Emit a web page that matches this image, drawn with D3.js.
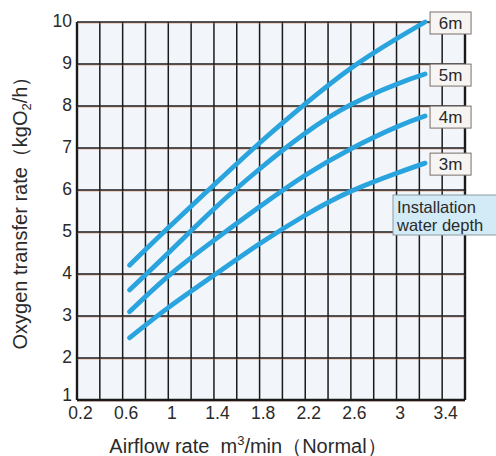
<!DOCTYPE html>
<html>
<head>
<meta charset="utf-8">
<script src="https://cdn.jsdelivr.net/npm/d3@7"></script>
<style>
  body { margin: 0; background: #fff; }
  text { font-family: "Liberation Sans", Arial, sans-serif; fill: #2a2a2a; }
</style>
</head>
<body>
<div id="chart"></div>
<script>
// Datos
const airflow = [0.66, 1.0, 1.4, 1.8, 2.2, 2.6, 3.0, 3.25]
const depth6m = [4.21, 5.1, 6.12, 7.12, 8.05, 8.9, 9.6, 10.0]
const depth5m = [3.62, 4.5, 5.55, 6.5, 7.35, 8.03, 8.52, 8.76]
const depth4m = [3.1, 3.95, 4.8, 5.6, 6.35, 6.98, 7.5, 7.76]
const depth3m = [2.48, 3.2, 3.97, 4.72, 5.4, 5.97, 6.4, 6.64]
const depthNames = ["6m", "5m", "4m", "3m"]
const xTickLabels = [0.2, 0.6, 1, 1.4, 1.8, 2.2, 2.6, 3, 3.4]
const yTickLabels = [1, 2, 3, 4, 5, 6, 7, 8, 9, 10]

const width = 496
const height = 456
const margin = { top: 22, bottom: 56, left: 77, right: 31 }

const svg = d3.select("div#chart").append("svg")
    .attr("width", width)
    .attr("height", height)

// Escalas
const scaleX = d3.scaleLinear().domain([0.2, 3.6]).range([margin.left, width - margin.right])
const scaleY = d3.scaleLinear().domain([1, 10]).range([height - margin.bottom, margin.top])

// Fondo de la zona del gráfico
svg.append("rect")
    .attr("x", scaleX(0.2)).attr("y", scaleY(10))
    .attr("width", scaleX(3.6) - scaleX(0.2))
    .attr("height", scaleY(1) - scaleY(10))
    .attr("fill", "#f2f6fa")

// Rejilla: verticales cada 0.2, horizontales cada 1
const gridGroup = svg.append("g").attr("id", "grid")
const xGrid = d3.range(0, 18).map(i => +(0.2 + i * 0.2).toFixed(1))
gridGroup.selectAll("line.v").data(xGrid).enter().append("line")
    .attr("class", "v")
    .attr("x1", d => scaleX(d)).attr("x2", d => scaleX(d))
    .attr("y1", scaleY(10)).attr("y2", scaleY(1))
    .attr("stroke", "#1a1a1a")
    .attr("stroke-width", d => (d === 0.2 || d === 3.6) ? 2.4 : 1.5)

// línea roja fina bajo cada horizontal (efecto de impresión)
gridGroup.selectAll("line.hr").data(yTickLabels).enter().append("line")
    .attr("class", "hr")
    .attr("x1", scaleX(0.2)).attr("x2", scaleX(3.6))
    .attr("y1", d => scaleY(d) + 1.2).attr("y2", d => scaleY(d) + 1.2)
    .attr("stroke", "#e07050").attr("stroke-opacity", 0.45)
    .attr("stroke-width", 1)
gridGroup.selectAll("line.h").data(yTickLabels).enter().append("line")
    .attr("class", "h")
    .attr("x1", scaleX(0.2)).attr("x2", scaleX(3.6))
    .attr("y1", d => scaleY(d)).attr("y2", d => scaleY(d))
    .attr("stroke", "#1a1a1a")
    .attr("stroke-width", d => d === 1 ? 2.4 : 1.5)

// Ejes (solo etiquetas)
const xAxis = d3.axisBottom(scaleX).tickValues(xTickLabels).tickSize(0).tickPadding(7)
    .tickFormat(d => d)
const yAxis = d3.axisLeft(scaleY).tickValues(yTickLabels).tickSize(0).tickPadding(5)
    .tickFormat(d => d)

const xAxisGroup = svg.append("g").attr("transform", `translate(0 ${scaleY(1)})`).call(xAxis)
const yAxisGroup = svg.append("g").attr("transform", `translate(${scaleX(0.2)} 0)`).call(yAxis)
xAxisGroup.select(".domain").remove()
yAxisGroup.select(".domain").remove()
svg.selectAll(".tick text")
    .attr("font-family", "Liberation Sans, Arial, sans-serif")
    .attr("font-size", 17.5)
    .attr("fill", "#2a2a2a")
xAxisGroup.selectAll(".tick text").attr("dx", 3)
yAxisGroup.selectAll(".tick text").attr("dy", "0.24em")
// el "1" del eje y un poco más arriba para no pisar el "0.2"
yAxisGroup.selectAll(".tick text").filter(d => d === 1).attr("dy", "0.05em")

// Curvas (spline natural para que queden suaves)
const series = [depth6m, depth5m, depth4m, depth3m]
const line = d3.line()
    .x(d => scaleX(d[0]))
    .y(d => scaleY(d[1]))
    .curve(d3.curveNatural)

svg.append("g").attr("id", "curves").selectAll("path").data(series).enter().append("path")
    .attr("d", s => line(s.map((v, i) => [airflow[i], v])))
    .attr("fill", "none")
    .attr("stroke", "#2aa4de")
    .attr("stroke-width", 4.8)
    .attr("stroke-linecap", "round")

// Etiquetas de profundidad
const lastX = airflow[airflow.length - 1]
const labels = svg.append("g").attr("id", "depthLabels")
series.forEach((s, i) => {
    const cy = scaleY(s[s.length - 1]) + 1
    const bx = scaleX(lastX) + 5
    labels.append("rect")
        .attr("x", bx).attr("y", cy - 11)
        .attr("width", 41).attr("height", 22)
        .attr("fill", "#f6f5f4")
        .attr("stroke", "#7a6e6a").attr("stroke-width", 1)
    labels.append("text")
        .attr("x", bx + 20.5).attr("y", cy)
        .attr("dy", "0.36em")
        .attr("text-anchor", "middle")
        .attr("font-size", 17)
        .text(depthNames[i])
})

// Cuadro "Installation water depth"
labels.append("rect")
    .attr("x", 393).attr("y", 195)
    .attr("width", 110).attr("height", 40)
    .attr("fill", "#d3ebf7")
    .attr("stroke", "#8a9aa2").attr("stroke-width", 1)
labels.append("text").attr("x", 397).attr("y", 213)
    .attr("font-size", 16.5).text("Installation")
labels.append("text").attr("x", 397).attr("y", 231)
    .attr("font-size", 16.5).text("water depth")

// Títulos de los ejes
const xTitle = svg.append("text")
    .attr("x", 248).attr("y", 453)
    .attr("text-anchor", "middle")
    .attr("font-size", 20)
xTitle.append("tspan").text("Airflow rate\u00a0\u00a0m")
xTitle.append("tspan").attr("font-size", 13).attr("dy", -8).text("3")
xTitle.append("tspan").attr("dy", 8).text("/min（Normal）")

const yTitle = svg.append("text")
    .attr("transform", `translate(27 ${208}) rotate(-90)`)
    .attr("text-anchor", "middle")
    .attr("font-size", 20)
yTitle.append("tspan").text("Oxygen transfer rate（kgO")
yTitle.append("tspan").attr("font-size", 13).attr("dy", 4).text("2")
yTitle.append("tspan").attr("dy", -4).text("/h）")
</script>
</body>
</html>
